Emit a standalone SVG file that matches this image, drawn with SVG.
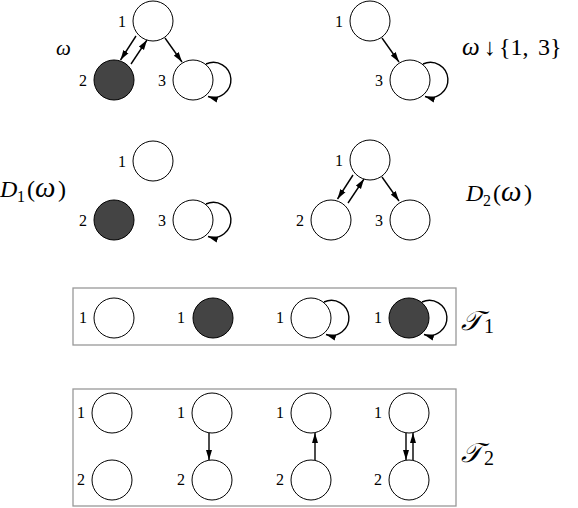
<svg xmlns="http://www.w3.org/2000/svg" width="578" height="508" viewBox="0 0 578 508">
<style>
.n{fill:#fff;stroke:#000;stroke-width:1}
.d{fill:#444;stroke:#000;stroke-width:1}
.e{fill:none;stroke:#000;stroke-width:1.4}
.l{font-family:"Liberation Serif",serif;font-size:16px;text-anchor:end;fill:#000}
.m{font-family:"Liberation Serif",serif;fill:#000}
.i{font-style:italic}
.box{fill:none;stroke:#999;stroke-width:1.3}
</style>
<defs>
<marker id="ah" viewBox="0 0 10 6" refX="10" refY="3" markerWidth="10" markerHeight="6.5" markerUnits="userSpaceOnUse" orient="auto">
<path d="M0,0 L10,3 L0,6 z" fill="#000"/>
</marker>
</defs>
<rect class="box" x="73" y="288" width="383" height="57"/>
<rect class="box" x="73" y="389" width="383" height="117"/>
<g id="connectors">
<line class="e" x1="136" y1="36" x2="120.5" y2="60" marker-end="url(#ah)"/>
<line class="e" x1="131" y1="64" x2="147" y2="40" marker-end="url(#ah)"/>
<line class="e" x1="165" y1="38" x2="182" y2="62" marker-end="url(#ah)"/>
<path class="e" d="M206,64 A17.5,17.5 0 1 1 208,96.5" marker-end="url(#ah)"/>
<line class="e" x1="382" y1="38" x2="399" y2="62" marker-end="url(#ah)"/>
<path class="e" d="M423,64 A17.5,17.5 0 1 1 425,96.5" marker-end="url(#ah)"/>
<path class="e" d="M206,204 A17.5,17.5 0 1 1 208,236.5" marker-end="url(#ah)"/>
<line class="e" x1="353" y1="175" x2="337.5" y2="199" marker-end="url(#ah)"/>
<line class="e" x1="348" y1="203" x2="364" y2="179" marker-end="url(#ah)"/>
<line class="e" x1="382" y1="177" x2="399" y2="201" marker-end="url(#ah)"/>
<path class="e" d="M324,302 A17.5,17.5 0 1 1 326,334.5" marker-end="url(#ah)"/>
<path class="e" d="M422,302 A17.5,17.5 0 1 1 424,334.5" marker-end="url(#ah)"/>
<line class="e" x1="209" y1="433" x2="209" y2="460" marker-end="url(#ah)"/>
<line class="e" x1="315" y1="460" x2="315" y2="433" marker-end="url(#ah)"/>
<line class="e" x1="406" y1="433" x2="406" y2="460" marker-end="url(#ah)"/>
<line class="e" x1="413" y1="460" x2="413" y2="433" marker-end="url(#ah)"/>
</g>
<g id="w-n1"><circle class="n" cx="153" cy="21" r="20"/><text class="l" x="126" y="27">1</text></g>
<g id="w-n2"><circle class="d" cx="114" cy="80" r="20"/><text class="l" x="87" y="86">2</text></g>
<g id="w-n3"><circle class="n" cx="193" cy="80" r="20"/><text class="l" x="166" y="86">3</text></g>
<g id="r-n1"><circle class="n" cx="370" cy="21" r="20"/><text class="l" x="343" y="27">1</text></g>
<g id="r-n3"><circle class="n" cx="410" cy="80" r="20"/><text class="l" x="383" y="86">3</text></g>
<g id="d1-n1"><circle class="n" cx="153" cy="161" r="20"/><text class="l" x="126" y="167">1</text></g>
<g id="d1-n2"><circle class="d" cx="114" cy="220" r="20"/><text class="l" x="87" y="226">2</text></g>
<g id="d1-n3"><circle class="n" cx="193" cy="220" r="20"/><text class="l" x="166" y="226">3</text></g>
<g id="d2-n1"><circle class="n" cx="370" cy="160" r="20"/><text class="l" x="343" y="166">1</text></g>
<g id="d2-n2"><circle class="n" cx="331" cy="220" r="20"/><text class="l" x="304" y="226">2</text></g>
<g id="d2-n3"><circle class="n" cx="410" cy="220" r="20"/><text class="l" x="383" y="226">3</text></g>
<g id="t1-a"><circle class="n" cx="114" cy="318" r="20"/><text class="l" x="87" y="323">1</text></g>
<g id="t1-b"><circle class="d" cx="213" cy="318" r="20"/><text class="l" x="185" y="323">1</text></g>
<g id="t1-c"><circle class="n" cx="311" cy="318" r="20"/><text class="l" x="284" y="323">1</text></g>
<g id="t1-d"><circle class="d" cx="409" cy="318" r="20"/><text class="l" x="382" y="323">1</text></g>
<g id="t2-a1"><circle class="n" cx="112" cy="413" r="20"/><text class="l" x="85" y="418">1</text></g>
<g id="t2-a2"><circle class="n" cx="112" cy="480" r="20"/><text class="l" x="85" y="485">2</text></g>
<g id="t2-b1"><circle class="n" cx="212" cy="413" r="20"/><text class="l" x="185" y="418">1</text></g>
<g id="t2-b2"><circle class="n" cx="212" cy="480" r="20"/><text class="l" x="185" y="485">2</text></g>
<g id="t2-c1"><circle class="n" cx="311" cy="413" r="20"/><text class="l" x="284" y="418">1</text></g>
<g id="t2-c2"><circle class="n" cx="311" cy="480" r="20"/><text class="l" x="284" y="485">2</text></g>
<g id="t2-d1"><circle class="n" cx="409" cy="413" r="20"/><text class="l" x="382" y="418">1</text></g>
<g id="t2-d2"><circle class="n" cx="409" cy="480" r="20"/><text class="l" x="382" y="485">2</text></g>
<text class="m i" x="56" y="55" font-size="21">ω</text>
<text class="m" y="55" font-size="24"><tspan class="i" x="462" font-size="25">ω</tspan><tspan x="484">↓</tspan><tspan x="499">{1,</tspan><tspan x="538">3}</tspan></text>
<text class="m" y="197" font-size="24"><tspan class="i" x="0">D</tspan><tspan x="17" dy="5" font-size="16">1</tspan><tspan x="27" dy="-5">(</tspan><tspan class="i" x="35" font-size="29">ω</tspan><tspan x="58">)</tspan></text>
<text class="m" y="201" font-size="24"><tspan class="i" x="466">D</tspan><tspan x="483" dy="5" font-size="16">2</tspan><tspan x="493" dy="-5">(</tspan><tspan class="i" x="501" font-size="29">ω</tspan><tspan x="524">)</tspan></text>
<text class="m" y="330" font-size="27"><tspan class="i" x="461">𝒯</tspan><tspan x="484" dy="3" font-size="20">1</tspan></text>
<text class="m" y="462" font-size="27"><tspan class="i" x="461">𝒯</tspan><tspan x="484" dy="3" font-size="20">2</tspan></text>
</svg>
